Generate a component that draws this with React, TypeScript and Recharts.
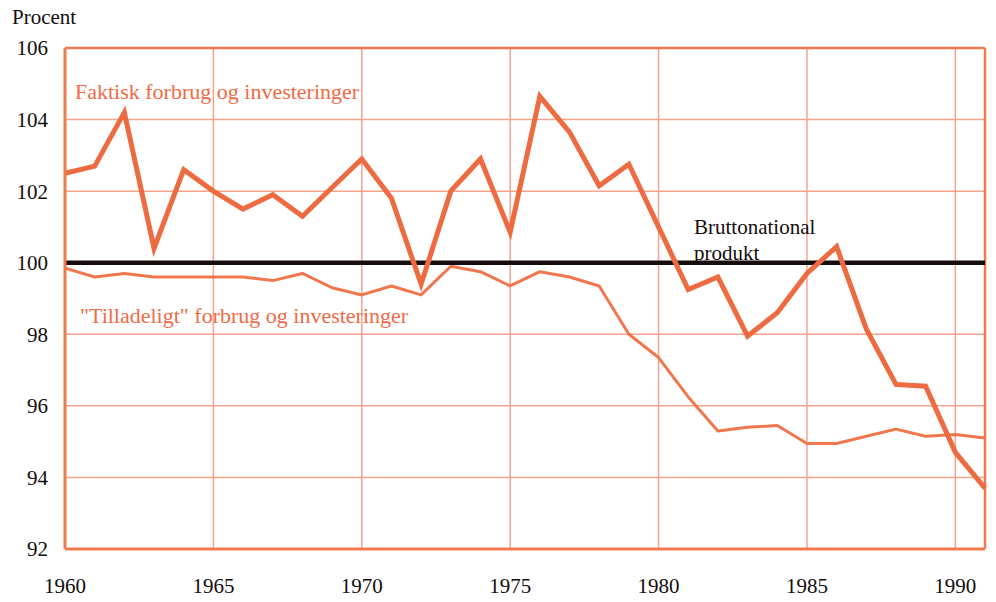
import { LineChart, Line, XAxis, YAxis, CartesianGrid, ReferenceLine } from 'recharts';

const years = [
  1960, 1961, 1962, 1963, 1964, 1965, 1966, 1967, 1968, 1969, 1970, 1971, 1972, 1973, 1974, 1975,
  1976, 1977, 1978, 1979, 1980, 1981, 1982, 1983, 1984, 1985, 1986, 1987, 1988, 1989, 1990, 1991,
];

// Faktisk forbrug og investeringer (index, BNP = 100)
const faktisk = [
  102.5, 102.7, 104.2, 100.4, 102.6, 102.0, 101.5, 101.9, 101.3, 102.1, 102.9, 101.8, 99.4, 102.0, 102.9, 100.85,
  104.65, 103.65, 102.15, 102.75, 101.0, 99.25, 99.6, 97.95, 98.6, 99.7, 100.45, 98.15, 96.6, 96.55, 94.7, 93.7,
];

// "Tilladeligt" forbrug og investeringer
const tilladeligt = [
  99.85, 99.6, 99.7, 99.6, 99.6, 99.6, 99.6, 99.5, 99.7, 99.3, 99.1, 99.35, 99.1, 99.9, 99.75, 99.35,
  99.75, 99.6, 99.35, 98.0, 97.35, 96.25, 95.3, 95.4, 95.45, 94.95, 94.95, 95.15, 95.35, 95.15, 95.2, 95.1,
];

const xTicks = [1960, 1965, 1970, 1975, 1980, 1985, 1990];
const yTicks = [92, 94, 96, 98, 100, 102, 104, 106];
const BNP_LEVEL = 100;

const GRID = '#f6a38c';
const FRAME = '#f07a50';
const FAKTISK_COLOR = '#ee6b42';
const TILLADELIGT_COLOR = '#f0764e';
const FONT = '"Liberation Serif", "DejaVu Serif", serif';

const data = years.map((year, i) => ({ year, faktisk: faktisk[i], tilladeligt: tilladeligt[i] }));

const tickStyle = { fontFamily: FONT, fontSize: 21, fill: '#140c0c' };

export default function App() {
  return (
    <div style={{ position: 'absolute', left: 0, top: 0, width: 996, height: 602, background: '#fff', fontFamily: FONT }}>
      <LineChart width={996} height={602} data={data} margin={{ top: 48, right: 11, left: 0, bottom: 0 }}>
        <CartesianGrid stroke={GRID} strokeWidth={1.5} />
        <XAxis
          dataKey="year"
          type="number"
          domain={[1960, 1991]}
          ticks={xTicks}
          height={53}
          tickSize={0}
          tickMargin={29}
          axisLine={{ stroke: FRAME, strokeWidth: 3 }}
          tick={tickStyle}
        />
        <YAxis
          type="number"
          domain={[92, 106]}
          ticks={yTicks}
          width={65}
          tickSize={0}
          tickMargin={17}
          axisLine={{ stroke: FRAME, strokeWidth: 3 }}
          tick={tickStyle}
        />
        <ReferenceLine y={106} stroke={FRAME} strokeWidth={2.5} />
        <ReferenceLine x={1991} stroke={FRAME} strokeWidth={2.5} />
        <ReferenceLine y={BNP_LEVEL} stroke="#150c0c" strokeWidth={4.5} />
        <Line
          dataKey="tilladeligt"
          stroke={TILLADELIGT_COLOR}
          strokeWidth={3}
          dot={false}
          isAnimationActive={false}
          strokeLinejoin="round"
        />
        <Line
          dataKey="faktisk"
          stroke={FAKTISK_COLOR}
          strokeWidth={5}
          dot={false}
          isAnimationActive={false}
          strokeLinejoin="miter"
        />
      </LineChart>

      <div style={{ position: 'absolute', left: 12, top: 5, fontSize: 21, color: '#140c0c' }}>Procent</div>
      <div style={{ position: 'absolute', left: 75, top: 79, fontSize: 22, color: '#f26a45', whiteSpace: 'nowrap' }}>
        Faktisk forbrug og investeringer
      </div>
      <div style={{ position: 'absolute', left: 80, top: 303, fontSize: 22, color: '#f26a45', whiteSpace: 'nowrap' }}>
        "Tilladeligt" forbrug og investeringer
      </div>
      <div style={{ position: 'absolute', left: 694, top: 214, fontSize: 21, lineHeight: '26px', color: '#150c0c' }}>
        Bruttonational
        <br />
        produkt
      </div>
    </div>
  );
}
